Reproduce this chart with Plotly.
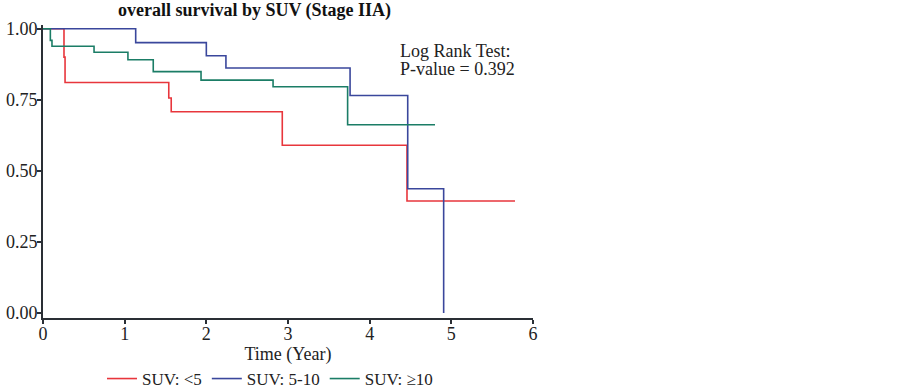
import plotly.graph_objects as go

# Kaplan-Meier step data (time in years, survival probability)
red_t = [0, 0.257, 0.27, 1.54, 1.57, 2.93, 4.457, 5.78]
red_s = [1.0, 0.90, 0.811, 0.756, 0.708, 0.590, 0.394, 0.394]

blue_t = [0, 1.135, 2.0, 2.24, 3.76, 4.466, 4.906]
blue_s = [1.0, 0.951, 0.905, 0.862, 0.765, 0.437, 0.0]

green_t = [0, 0.09, 0.11, 0.625, 1.04, 1.35, 1.935, 2.817, 3.73, 4.80]
green_s = [1.0, 0.959, 0.938, 0.917, 0.891, 0.849, 0.819, 0.796, 0.662, 0.662]

series_names = ["SUV: <5", "SUV: 5-10", "SUV: \u226510"]
series_colors = ["#e8363c", "#3a479c", "#1b7d66"]

x_ticks = [0, 1, 2, 3, 4, 5, 6]
y_ticks = [0.0, 0.25, 0.5, 0.75, 1.0]
y_tick_labels = ["0.00", "0.25", "0.50", "0.75", "1.00"]

FONT = "Liberation Serif"

fig = go.Figure()
for t, s, name, col in zip([red_t, blue_t, green_t], [red_s, blue_s, green_s],
                           series_names, series_colors):
    fig.add_trace(go.Scatter(x=t, y=s, mode="lines", name=name,
                             line=dict(color=col, width=1.6, shape="hv")))

fig.update_layout(
    width=903, height=389,
    margin=dict(l=43, r=370, t=25, b=71, autoexpand=False),
    paper_bgcolor="white", plot_bgcolor="white",
    font=dict(family=FONT, size=18, color="#222"),
    title=dict(text="<b>overall survival by SUV (Stage IIA)</b>",
               x=(254.5 - 43) / 490, xref="paper", xanchor="center",
               y=1 - 10 / 389, yref="container", yanchor="middle",
               font=dict(family=FONT, size=18, color="#111")),
    showlegend=True,
    legend=dict(orientation="h", x=(102 - 43) / 490, xanchor="left",
                y=(318 - 379) / 293, yanchor="middle",
                font=dict(family=FONT, size=17, color="#222"),
                itemwidth=30, tracegroupgap=0),
    xaxis=dict(range=[0, 6], tickvals=x_ticks, ticks="outside", ticklen=4,
               tickwidth=2, tickcolor="#2a2f35", ticklabelstandoff=-6,
               showline=True, linecolor="#2a2f35", linewidth=2,
               showgrid=False, zeroline=False, automargin=False,
               title=dict(text="Time (Year)", standoff=4,
                          font=dict(family=FONT, size=18))),
    yaxis=dict(range=[-0.0176, 1.013], tickvals=y_ticks, ticktext=y_tick_labels,
               ticks="outside", ticklen=4, tickwidth=2, tickcolor="#2a2f35",
               ticklabelstandoff=-4,
               showline=True, linecolor="#2a2f35", linewidth=2,
               showgrid=False, zeroline=False, automargin=False),
)

fig.add_annotation(text="Log Rank Test:", x=(398 - 43) / 490, xref="paper",
                   y=(313 - 50.7) / 284.3, yref="y", xanchor="left",
                   yanchor="middle", showarrow=False,
                   font=dict(family=FONT, size=18, color="#222"))
fig.add_annotation(text="P-value = 0.392", x=(398 - 43) / 490, xref="paper",
                   y=(313 - 69) / 284.3, yref="y", xanchor="left",
                   yanchor="middle", showarrow=False,
                   font=dict(family=FONT, size=18, color="#222"))

fig.write_html("out.html",
               config={"displayModeBar": False},
               post_script="document.body.style.margin='0';"
                           "document.body.style.overflow='hidden';")
